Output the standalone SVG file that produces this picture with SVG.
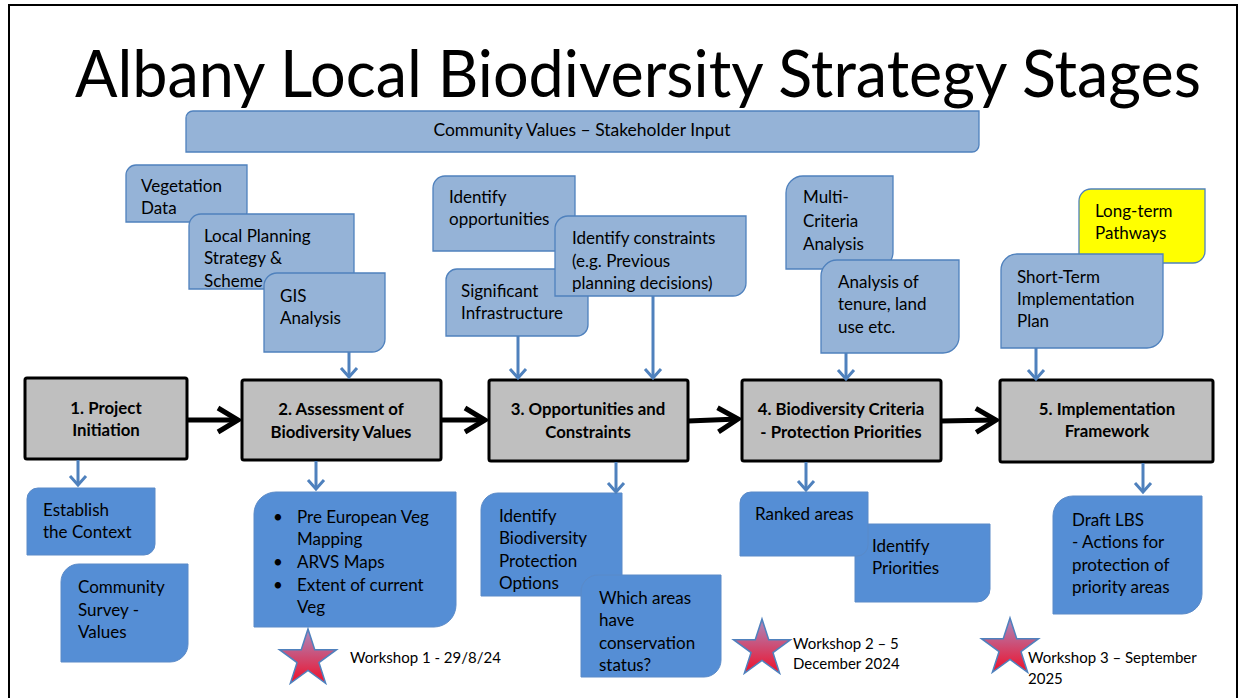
<svg xmlns="http://www.w3.org/2000/svg" width="1244" height="698" viewBox="0 0 1244 698">
<style>
.t{font-family:Lato,"Open Sans","DejaVu Sans",sans-serif;font-size:17px;fill:#000}
.b{font-weight:bold;text-anchor:middle;font-size:16.8px}
.lb{fill:#95B3D7;stroke:#4F81BD;stroke-width:1.3}
.db{fill:#558ED5;stroke:#5A8AC8;stroke-width:1}
.st{fill:#BFBFBF;stroke:#000;stroke-width:3}
.ba{fill:none;stroke:#000;stroke-width:5;marker-end:url(#blk)}
.bl{fill:none;stroke:#4F81BD;stroke-width:3;marker-end:url(#blu)}
.ws{font-size:15px}
</style>
<defs>
<marker id="blk" markerUnits="userSpaceOnUse" markerWidth="36" markerHeight="30" viewBox="0 0 36 30" refX="26" refY="15" orient="auto" overflow="visible">
<path d="M6,3 L26,15 L6,27" fill="none" stroke="#000" stroke-width="5"/>
</marker>
<marker id="blu" markerUnits="userSpaceOnUse" markerWidth="20" markerHeight="20" viewBox="0 0 20 20" refX="10" refY="10" orient="auto" overflow="visible">
<path d="M1,2 L10,10 L1,18" fill="none" stroke="#4F81BD" stroke-width="3"/>
</marker>
<linearGradient id="sg" x1="0" y1="0" x2="0" y2="1">
<stop offset="0" stop-color="#A98BC0"/>
<stop offset="1" stop-color="#F0102A"/>
</linearGradient>
<polygon id="star" points="0,-30 6.76,-9.3 28.53,-9.27 10.94,3.55 17.63,24.27 0,11.5 -17.63,24.27 -10.94,3.55 -28.53,-9.27 -6.76,-9.3" fill="url(#sg)" stroke="#4F81BD" stroke-width="1.5"/>
</defs>
<rect x="0" y="0" width="1244" height="698" fill="#fff"/>
<path d="M9,698 V5 H1237 V698" fill="none" stroke="#000" stroke-width="2"/>
<text class="t" x="75" y="97" style="font-size:66px" textLength="1126" lengthAdjust="spacingAndGlyphs">Albany Local Biodiversity Strategy Stages</text>

<g id="community-values">
<path class="lb" d="M193,111 H979 V145 A7,7 0 0 1 972,152 H186 V118 A7,7 0 0 1 193,111 Z"/>
<text class="t" x="582" y="136" text-anchor="middle" style="font-size:17.5px">Community Values – Stakeholder Input</text>
</g>

<g id="vegetation-data">
<path class="lb" d="M136,165 H247 V212 A10,10 0 0 1 237,222 H126 V175 A10,10 0 0 1 136,165 Z"/>
<text class="t" x="141" y="192">Vegetation</text><text class="t" x="141" y="214">Data</text>
</g>
<g id="local-planning">
<path class="lb" d="M201,214 H354 V277 A12,12 0 0 1 342,289 H189 V226 A12,12 0 0 1 201,214 Z"/>
<text class="t" x="204" y="242">Local Planning</text><text class="t" x="204" y="264">Strategy &amp;</text><text class="t" x="204" y="287">Scheme</text>
</g>
<g id="gis-analysis">
<path class="lb" d="M277,273 H385 V339 A13,13 0 0 1 372,352 H264 V286 A13,13 0 0 1 277,273 Z"/>
<text class="t" x="280" y="302">GIS</text><text class="t" x="280" y="324">Analysis</text>
</g>

<g id="identify-opportunities">
<path class="lb" d="M445,176 H575 V239 A12,12 0 0 1 563,251 H433 V188 A12,12 0 0 1 445,176 Z"/>
<text class="t" x="449" y="203">Identify</text><text class="t" x="449" y="225">opportunities</text>
</g>
<g id="significant-infrastructure">
<path class="lb" d="M457,269 H588 V325 A11,11 0 0 1 577,336 H446 V280 A11,11 0 0 1 457,269 Z"/>
<text class="t" x="461" y="297">Significant</text><text class="t" x="461" y="319">Infrastructure</text>
</g>
<g id="identify-constraints">
<path class="lb" d="M568,216 H746 V283 A13,13 0 0 1 733,296 H555 V229 A13,13 0 0 1 568,216 Z"/>
<text class="t" x="572" y="244">Identify constraints</text><text class="t" x="572" y="267">(e.g. Previous</text><text class="t" x="572" y="289">planning decisions)</text>
</g>

<g id="multi-criteria">
<path class="lb" d="M803,176 H893 V252 A17,17 0 0 1 876,269 H786 V193 A17,17 0 0 1 803,176 Z"/>
<text class="t" x="803" y="203">Multi-</text><text class="t" x="803" y="227">Criteria</text><text class="t" x="803" y="250">Analysis</text>
</g>
<g id="analysis-tenure">
<path class="lb" d="M837,260 H959 V337 A16,16 0 0 1 943,353 H821 V276 A16,16 0 0 1 837,260 Z"/>
<text class="t" x="838" y="288">Analysis of</text><text class="t" x="838" y="310">tenure, land</text><text class="t" x="838" y="333">use etc.</text>
</g>

<g id="long-term-pathways">
<path d="M1091,189 H1205 V251 A12,12 0 0 1 1193,263 H1079 V201 A12,12 0 0 1 1091,189 Z" fill="#FFFF00" stroke="#4F81BD" stroke-width="1.3"/>
<text class="t" x="1095" y="217">Long-term</text><text class="t" x="1095" y="239">Pathways</text>
</g>
<g id="short-term-plan">
<path class="lb" d="M1017,254 H1163 V332 A16,16 0 0 1 1147,348 H1001 V270 A16,16 0 0 1 1017,254 Z"/>
<text class="t" x="1017" y="283">Short-Term</text><text class="t" x="1017" y="305">Implementation</text><text class="t" x="1017" y="327">Plan</text>
</g>

<g id="stage1"><rect class="st" x="25" y="378" width="162" height="81" rx="2"/>
<text class="t b" x="106" y="414">1. Project</text><text class="t b" x="106" y="436">Initiation</text></g>
<g id="stage2"><rect class="st" x="242" y="380" width="199" height="80" rx="2"/>
<text class="t b" x="341" y="415">2. Assessment of</text><text class="t b" x="341" y="438">Biodiversity Values</text></g>
<g id="stage3"><rect class="st" x="489" y="380" width="199" height="81" rx="2"/>
<text class="t b" x="588" y="415">3. Opportunities and</text><text class="t b" x="588" y="438">Constraints</text></g>
<g id="stage4"><rect class="st" x="742" y="380" width="199" height="81" rx="2"/>
<text class="t b" x="841" y="415">4. Biodiversity Criteria</text><text class="t b" x="841" y="438">- Protection Priorities</text></g>
<g id="stage5"><rect class="st" x="1000" y="380" width="213" height="82" rx="2"/>
<text class="t b" x="1107" y="415">5. Implementation</text><text class="t b" x="1107" y="437">Framework</text></g>

<g id="establish-context">
<path class="db" d="M38,488 H155 V544 A11,11 0 0 1 144,555 H27 V499 A11,11 0 0 1 38,488 Z"/>
<text class="t" x="43" y="516">Establish</text><text class="t" x="43" y="538">the Context</text>
</g>
<g id="community-survey">
<path class="db" d="M79,564 H188 V644 A18,18 0 0 1 170,662 H61 V582 A18,18 0 0 1 79,564 Z"/>
<text class="t" x="78" y="593">Community</text><text class="t" x="78" y="616">Survey -</text><text class="t" x="78" y="638">Values</text>
</g>
<g id="assessment-list">
<path class="db" d="M276,492 H456 V605 A22,22 0 0 1 434,627 H254 V514 A22,22 0 0 1 276,492 Z"/>
<text class="t" x="273" y="523">•</text><text class="t" x="297" y="523">Pre European Veg</text>
<text class="t" x="297" y="545">Mapping</text>
<text class="t" x="273" y="568">•</text><text class="t" x="297" y="568">ARVS Maps</text>
<text class="t" x="273" y="591">•</text><text class="t" x="297" y="591">Extent of current</text>
<text class="t" x="297" y="613">Veg</text>
</g>
<g id="protection-options">
<path class="db" d="M498,493 H622 V579 A17,17 0 0 1 605,596 H481 V510 A17,17 0 0 1 498,493 Z"/>
<text class="t" x="499" y="522">Identify</text><text class="t" x="499" y="544">Biodiversity</text><text class="t" x="499" y="567">Protection</text><text class="t" x="499" y="589">Options</text>
</g>
<g id="conservation-status">
<path class="db" d="M598,575 H721 V660 A17,17 0 0 1 704,677 H581 V592 A17,17 0 0 1 598,575 Z"/>
<text class="t" x="599" y="604">Which areas</text><text class="t" x="599" y="626">have</text><text class="t" x="599" y="649">conservation</text><text class="t" x="599" y="671">status?</text>
</g>
<g id="identify-priorities">
<path class="db" d="M868,524 H990 V589 A13,13 0 0 1 977,602 H855 V537 A13,13 0 0 1 868,524 Z"/>
<text class="t" x="872" y="552">Identify</text><text class="t" x="872" y="574">Priorities</text>
</g>
<g id="ranked-areas">
<path class="db" d="M751,492 H868 V545 A11,11 0 0 1 857,556 H740 V503 A11,11 0 0 1 751,492 Z"/>
<text class="t" x="755" y="520">Ranked areas</text>
</g>
<g id="draft-lbs">
<path class="db" d="M1073,496 H1202 V594 A20,20 0 0 1 1182,614 H1053 V516 A20,20 0 0 1 1073,496 Z"/>
<text class="t" x="1072" y="526">Draft LBS</text><text class="t" x="1072" y="548">- Actions for</text><text class="t" x="1072" y="571">protection of</text><text class="t" x="1072" y="593">priority areas</text>
</g>

<g id="workshop1"><use href="#star" x="308" y="659"/><text class="t ws" x="350" y="663">Workshop 1 - 29/8/24</text></g>
<g id="workshop2"><use href="#star" x="762" y="649"/><text class="t ws" x="793" y="649">Workshop 2 – 5</text><text class="t ws" x="793" y="669">December 2024</text></g>
<g id="workshop3"><use href="#star" x="1010" y="648"/><text class="t ws" x="1028" y="663">Workshop 3 – September</text><text class="t ws" x="1028" y="684">2025</text></g>

<g id="connectors">
<path class="ba" d="M187,420 H238"/>
<path class="ba" d="M441,420 H485"/>
<path class="ba" d="M688,421 L738,419"/>
<path class="ba" d="M941,421 L996,420"/>
<path class="bl" d="M349,352 V377"/>
<path class="bl" d="M518,336 V378"/>
<path class="bl" d="M653,296 V378"/>
<path class="bl" d="M846,353 V379"/>
<path class="bl" d="M1036,348 V379"/>
<path class="bl" d="M78,460 V485"/>
<path class="bl" d="M316,461 V489"/>
<path class="bl" d="M616,462 V492"/>
<path class="bl" d="M806,462 V490"/>
<path class="bl" d="M1143,463 V492"/>
</g>
</svg>
